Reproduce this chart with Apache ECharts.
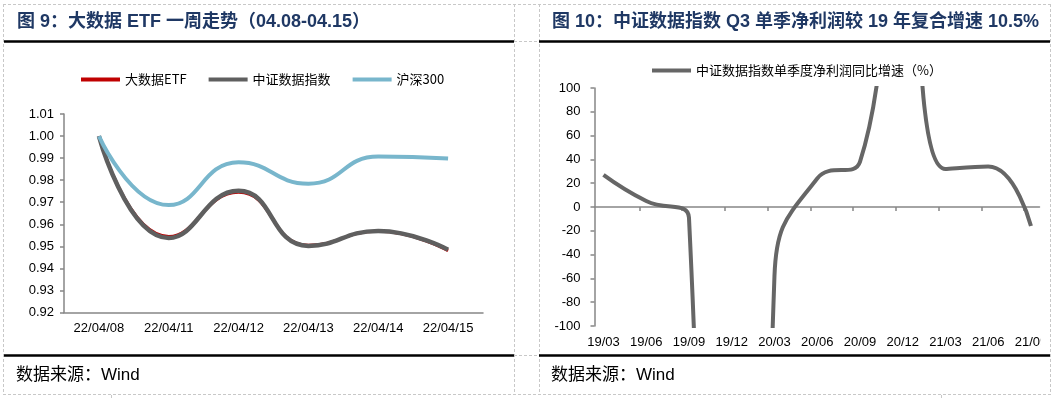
<!DOCTYPE html>
<html>
<head>
<meta charset="utf-8">
<script src="https://cdn.jsdelivr.net/npm/echarts@6/dist/echarts.min.js"></script>
<style>
  html, body { margin: 0; padding: 0; background: #fff; }
  #chart { width: 1055px; height: 399px; }
</style>
</head>
<body>
<div id="chart"></div>
<script>
// left: one-week trend
const etfDates = ["22/04/08", "22/04/11", "22/04/12", "22/04/13", "22/04/14", "22/04/15"];
const bigDataEtf = [1.000, 0.9545, 0.9745, 0.9505, 0.9568, 0.9480];
const csiDataIndex = [1.000, 0.9538, 0.9752, 0.9502, 0.9570, 0.9485];
const hs300 = [1.000, 0.9687, 0.9881, 0.9784, 0.9907, 0.9898];

// right: quarterly net profit growth (%), off-scale quarters included
const quarters = ["19/03", "19/06", "19/09", "19/12", "20/03", "20/06", "20/09", "20/12", "21/03", "21/06", "21/09"];
const profitGrowth = [27, 5, -9, -2000, -58, 24, 38, 300, 32, 34, -16];

const LATIN = '"Liberation Sans", "Noto Sans CJK SC", sans-serif';
const CJK = '"Noto Sans CJK SC", "Liberation Sans", sans-serif';
const AXIS_GRAY = "#868686";

const dash = { stroke: "#c8c8c8", lineWidth: 1, lineDash: [3, 2] };
const rule = { stroke: "#000", lineWidth: 2.5 };

function hline(x1, x2, y, style) {
  return { type: "line", silent: true, shape: { x1: x1, y1: y, x2: x2, y2: y }, style: style };
}
function vline(x, y1, y2, style) {
  return { type: "line", silent: true, shape: { x1: x, y1: y1, x2: x, y2: y2 }, style: style };
}
function label(text, x, y, font, color) {
  return { type: "text", silent: true, x: x, y: y,
    style: { text: text, font: font, fill: color, align: "left", verticalAlign: "middle" } };
}

const quarterTicks = quarters.slice(0, 10).map((q, i) => i + 0.84);

const chart = echarts.init(document.getElementById("chart"));

chart.setOption({
  animation: false,
  grid: [
    { left: 64, right: 572, top: 114, bottom: 86.5, outerBoundsMode: "none" },
    { left: 594.5, right: 15.5, top: 88, bottom: 73, outerBoundsMode: "none" }
  ],
  legend: [
    {
      data: ["大数据ETF", "中证数据指数", "沪深300"],
      left: 81, top: 73, padding: 0,
      icon: "rect", itemWidth: 39, itemHeight: 4, itemGap: 22,
      textStyle: { fontFamily: CJK, fontSize: 13, color: "#000" }
    },
    {
      data: ["中证数据指数单季度净利润同比增速（%）"],
      left: 652, top: 64, padding: 0,
      icon: "rect", itemWidth: 39, itemHeight: 4,
      textStyle: { fontFamily: CJK, fontSize: 13, color: "#000" }
    }
  ],
  xAxis: [
    {
      gridIndex: 0, type: "category", data: etfDates, boundaryGap: true,
      axisLine: { lineStyle: { color: AXIS_GRAY, width: 1.5 } },
      axisTick: { length: 4, lineStyle: { color: AXIS_GRAY, width: 1.5 } },
      axisLabel: { margin: 9, fontFamily: LATIN, fontSize: 13, color: "#000" }
    },
    {
      // labels at the bottom of the plot
      gridIndex: 1, type: "value", min: -0.21, max: 10.2, position: "bottom",
      axisLine: { show: false, onZero: false },
      axisTick: { show: false },
      splitLine: { show: false },
      axisLabel: {
        margin: 10, fontFamily: LATIN, fontSize: 13, color: "#000",
        customValues: quarters.map((q, i) => i),
        formatter: (v) => quarters[Math.round(v)]
      }
    },
    {
      // zero line
      gridIndex: 1, type: "value", min: -0.21, max: 10.2, position: "bottom",
      axisLine: { onZero: true, lineStyle: { color: AXIS_GRAY, width: 1.5 } },
      axisTick: { length: 4, customValues: quarterTicks, lineStyle: { color: AXIS_GRAY, width: 1.5 } },
      axisLabel: { show: false },
      splitLine: { show: false }
    }
  ],
  yAxis: [
    {
      gridIndex: 0, type: "value", min: 0.92, max: 1.01, interval: 0.01,
      axisLine: { show: true, lineStyle: { color: AXIS_GRAY, width: 1.5 } },
      axisTick: { show: true, length: 4, lineStyle: { color: AXIS_GRAY, width: 1.5 } },
      splitLine: { show: false },
      axisLabel: { margin: 10, fontFamily: LATIN, fontSize: 13, color: "#000", formatter: (v) => v.toFixed(2) }
    },
    {
      gridIndex: 1, type: "value", min: -100, max: 100, interval: 20,
      axisLine: { show: true, onZero: false, lineStyle: { color: AXIS_GRAY, width: 1.5 } },
      axisTick: { show: true, length: 4, lineStyle: { color: AXIS_GRAY, width: 1.5 } },
      splitLine: { show: false },
      axisLabel: { margin: 14, fontFamily: LATIN, fontSize: 13, color: "#000" }
    }
  ],
  series: [
    {
      name: "大数据ETF", type: "line", xAxisIndex: 0, yAxisIndex: 0, data: bigDataEtf,
      smooth: true, showSymbol: false,
      itemStyle: { color: "#c00000" }, lineStyle: { color: "#c00000", width: 3 }
    },
    {
      name: "中证数据指数", type: "line", xAxisIndex: 0, yAxisIndex: 0, data: csiDataIndex,
      smooth: true, showSymbol: false,
      itemStyle: { color: "#5f5f5f" }, lineStyle: { color: "#5f5f5f", width: 4.5 }
    },
    {
      name: "沪深300", type: "line", xAxisIndex: 0, yAxisIndex: 0, data: hs300,
      smooth: true, showSymbol: false,
      itemStyle: { color: "#78b6cc" }, lineStyle: { color: "#78b6cc", width: 4 }
    },
    {
      name: "中证数据指数单季度净利润同比增速（%）", type: "line", xAxisIndex: 1, yAxisIndex: 1,
      data: profitGrowth.map((v, i) => [i, v]),
      smooth: true, showSymbol: false, clip: true,
      itemStyle: { color: "#666666" }, lineStyle: { color: "#666666", width: 4 }
    }
  ],
  graphic: [
    // panel frames
    hline(3, 1051, 4.5, dash),
    hline(3, 1051, 394.5, dash),
    vline(3.5, 4, 395, dash),
    vline(514.5, 4, 395, dash),
    vline(539.5, 4, 395, dash),
    vline(1050.5, 4, 395, dash),
    hline(514, 540, 41.5, dash),
    hline(514, 540, 355.5, dash),
    vline(111.5, 395, 399, dash),
    vline(941.5, 395, 399, dash),
    hline(4, 514, 41.5, rule),
    hline(539, 1050, 41.5, rule),
    hline(4, 514, 355.5, rule),
    hline(539, 1050, 355.5, rule),
    // cut the last quarter label at the plot edge like the original
    { type: "rect", silent: true, z: 100, shape: { x: 1040.5, y: 333, width: 9, height: 18 }, style: { fill: "#fff" } },
    // headers and sources
    label("图 9：大数据 ETF 一周走势（04.08-04.15）", 17, 22, "bold 18px " + LATIN, "#1f3864"),
    label("图 10：中证数据指数 Q3 单季净利润较 19 年复合增速 10.5%", 552, 22, "bold 18px " + LATIN, "#1f3864"),
    label("数据来源：Wind", 16, 375, "17px " + LATIN, "#000"),
    label("数据来源：Wind", 551, 375, "17px " + LATIN, "#000")
  ]
});
</script>
</body>
</html>
